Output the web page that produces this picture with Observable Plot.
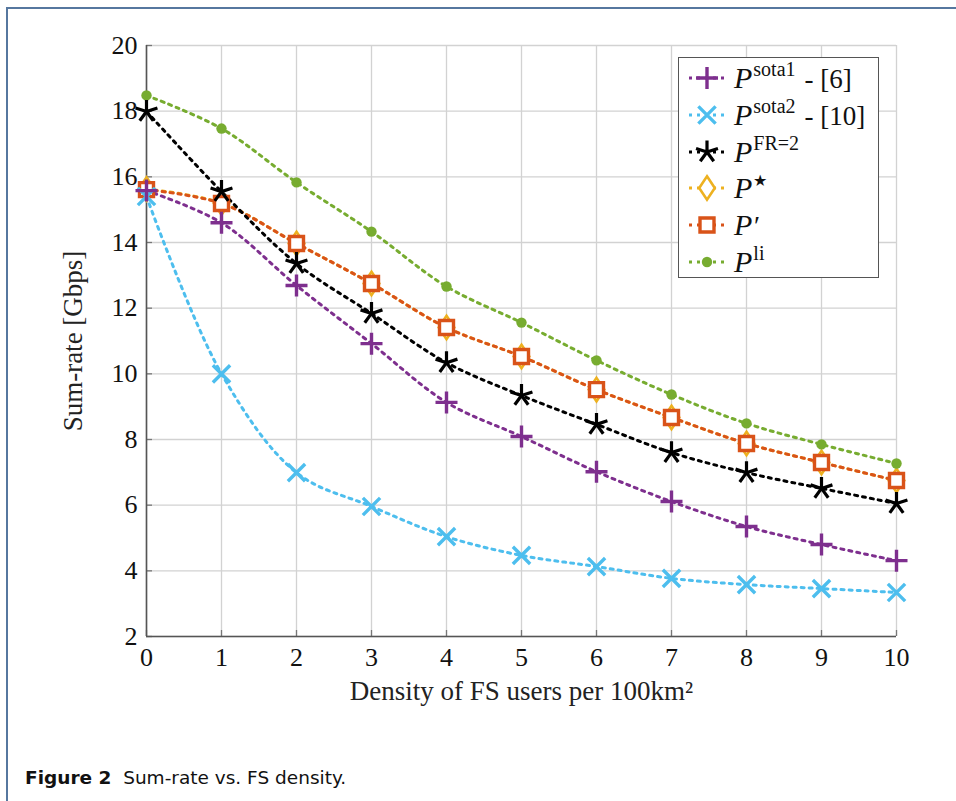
<!DOCTYPE html>
<html>
<head>
<meta charset="utf-8">
<script src="https://cdn.jsdelivr.net/npm/d3@7"></script>
<script src="https://cdn.jsdelivr.net/npm/@observablehq/plot@0.6"></script>
<style>
  html, body { margin: 0; padding: 0; background: #fff; }
  #page { position: relative; width: 956px; height: 801px; overflow: hidden; }
  #frame { position: absolute; left: 6px; top: 7px; right: -10px; bottom: -10px;
           border-top: 2px solid #56779f; border-left: 2px solid #56779f; }
  #chart { position: absolute; left: 0; top: 0; }
  #legend { position: absolute; left: 678px; top: 57px; width: 201px; height: 221px;
            border: 1px solid #555; background: #fff; box-sizing: border-box;
            font-family: "Liberation Serif", serif; color: #111; }
  .row { position: absolute; left: 8px; height: 36px; display: flex; align-items: center; }
  .row svg { margin-right: 7px; }
  .P { font-style: italic; font-size: 30px; }
  .sup { font-size: 20px; position: relative; top: -12px; margin-left: 1px; }
  .ref { font-size: 27px; margin-left: 9px; }
  #caption { position: absolute; left: 25px; top: 767px; font-family: "DejaVu Sans", sans-serif;
             font-size: 18.5px; color: #111; }
</style>
</head>
<body>
<div id="page">
  <div id="frame"></div>
  <div id="chart"></div>
  <div id="legend"></div>
  <div id="caption"><b>Figure 2</b>&nbsp; Sum-rate vs. FS density.</div>
</div>
<script>
// ---- data ----
const density = [0, 1, 2, 3, 4, 5, 6, 7, 8, 9, 10];
const sota1   = [15.58, 14.60, 12.69, 10.92, 9.13, 8.09, 7.02, 6.11, 5.35, 4.80, 4.31];
const sota2   = [15.40, 10.00, 6.99, 5.96, 5.04, 4.47, 4.13, 3.77, 3.58, 3.46, 3.34];
const fr2     = [17.99, 15.55, 13.36, 11.84, 10.34, 9.34, 8.46, 7.60, 6.99, 6.51, 6.05];
const pStar   = [15.63, 15.20, 13.97, 12.75, 11.41, 10.53, 9.52, 8.67, 7.88, 7.30, 6.75];
const pPrime  = [15.61, 15.19, 13.97, 12.75, 11.41, 10.53, 9.52, 8.67, 7.88, 7.30, 6.75];
const pLi     = [18.48, 17.47, 15.83, 14.33, 12.66, 11.56, 10.41, 9.37, 8.49, 7.85, 7.27];
const xTicks = [0, 1, 2, 3, 4, 5, 6, 7, 8, 9, 10];
const yTicks = [2, 4, 6, 8, 10, 12, 14, 16, 18, 20];

// ---- symbols ----
const rad = s => Math.sqrt(s / Math.PI);
const symPlus = {draw(c, s) { const r = rad(s); c.moveTo(-r, 0); c.lineTo(r, 0); c.moveTo(0, -r); c.lineTo(0, r); }};
const symX = {draw(c, s) { const r = rad(s) * 0.75; c.moveTo(-r, -r); c.lineTo(r, r); c.moveTo(-r, r); c.lineTo(r, -r); }};
const symAst = {draw(c, s) { const r = rad(s);
  for (let k = 0; k < 5; k++) { const a = (-90 + 72 * k) * Math.PI / 180; c.moveTo(0, 0); c.lineTo(r * Math.cos(a), r * Math.sin(a)); } }};
const symDiamond = {draw(c, s) { const r = rad(s); c.moveTo(0, -r * 1.5); c.lineTo(r, 0); c.lineTo(0, r * 1.5); c.lineTo(-r, 0); c.closePath(); }};
const symSquare = {draw(c, s) { const r = rad(s); c.rect(-r, -r, 2 * r, 2 * r); }};
const symCircle = {draw(c, s) { const r = rad(s); c.moveTo(r, 0); c.arc(0, 0, r, 0, 2 * Math.PI); }};

const series = [
  {key: "pStar",  vals: pStar,  color: "#EDB120", sym: symDiamond, r: 7.8, fill: "white", sw: 2.6},
  {key: "pPrime", vals: pPrime, color: "#D95319", sym: symSquare,  r: 7,   fill: "white", sw: 3.4},
  {key: "pLi",    vals: pLi,    color: "#77AC30", sym: symCircle,  r: 5.2, fill: "#77AC30", sw: 0},
  {key: "fr2",    vals: fr2,    color: "#000000", sym: symAst,     r: 11.5,fill: "none", sw: 3.2},
  {key: "sota2",  vals: sota2,  color: "#4DBEEE", sym: symX,       r: 11.5,fill: "none", sw: 3.4},
  {key: "sota1",  vals: sota1,  color: "#7E2F8E", sym: symPlus,    r: 11,  fill: "none", sw: 3.4},
];

const lineMarks = series.map(s => {
  const rows = density.map((d, i) => ({x: d, y: s.vals[i]}));
  return Plot.line(rows, {x: "x", y: "y", stroke: s.color, strokeWidth: 3,
    strokeDasharray: "3,5", curve: "catmull-rom"});
});
const dotMarks = series.map(s => {
  const rows = density.map((d, i) => ({x: d, y: s.vals[i]}));
  return Plot.dot(rows, {x: "x", y: "y", symbol: s.sym, r: s.r, stroke: s.sw ? s.color : "none",
    strokeWidth: s.sw, fill: s.fill});
});

const serif = "Liberation Serif, Times New Roman, serif";
const chart = Plot.plot({
  width: 956, height: 720,
  marginLeft: 146, marginRight: 60, marginTop: 45, marginBottom: 84,
  style: {fontFamily: serif, background: "transparent", color: "#111"},
  x: {domain: [0, 10]},
  y: {domain: [2, 20]},
  marks: [
    Plot.gridX(xTicks, {stroke: "#d2d2d2", strokeOpacity: 1, strokeWidth: 1.3}),
    Plot.gridY(yTicks, {stroke: "#d2d2d2", strokeOpacity: 1, strokeWidth: 1.3}),
    Plot.axisX(xTicks, {tickSize: 0, tickPadding: 11, fontSize: 26, label: null, tickFormat: d => String(d)}),
    Plot.axisY(yTicks, {tickSize: 0, tickPadding: 9, fontSize: 26, label: null, tickFormat: d => String(d)}),
    Plot.tickX(xTicks, {x: d => d, stroke: "#777", strokeWidth: 1.3, insetTop: 585}),
    Plot.tickY(yTicks, {y: d => d, stroke: "#777", strokeWidth: 1.3, insetRight: 744}),
    Plot.ruleX([0], {stroke: "#555", strokeWidth: 1.6}),
    Plot.ruleY([2], {stroke: "#555", strokeWidth: 1.6}),
    ...lineMarks,
    ...dotMarks,
    Plot.text(["Sum-rate [Gbps]"], {frameAnchor: "left", textAnchor: "middle", rotate: -90, dx: -73, fontSize: 27, fill: "#222"}),
    Plot.text(["Density of FS users per 100km²"], {frameAnchor: "bottom", textAnchor: "middle", dy: 63, fontSize: 27, fill: "#222"}),
  ]
});
document.getElementById("chart").appendChild(chart);

// ---- legend (HTML) ----
const legendItems = [
  {s: series[5], base: "P", sup: "sota1", ref: "- [6]"},
  {s: series[4], base: "P", sup: "sota2", ref: "- [10]"},
  {s: series[3], base: "P", sup: "FR=2", ref: ""},
  {s: series[0], base: "P", sup: "\u22C6", ref: ""},
  {s: series[1], base: "P", sup: "\u2032", ref: ""},
  {s: series[2], base: "P", sup: "li", ref: ""},
];
const legend = document.getElementById("legend");
legendItems.forEach((it, i) => {
  const row = document.createElement("div");
  row.className = "row";
  row.style.top = (2 + i * 36.8) + "px";
  const svg = d3.create("svg").attr("width", 40).attr("height", 30);
  svg.append("line").attr("x1", 2).attr("x2", 38).attr("y1", 15).attr("y2", 15)
    .attr("stroke", it.s.color).attr("stroke-width", 3).attr("stroke-dasharray", "3,5");
  const size = it.s.r * it.s.r * Math.PI;
  svg.append("path").attr("transform", "translate(20,15)")
    .attr("d", d3.symbol(it.s.sym, size)())
    .attr("fill", it.s.fill).attr("stroke", it.s.sw ? it.s.color : "none").attr("stroke-width", it.s.sw);
  row.appendChild(svg.node());
  const txt = document.createElement("span");
  let supHtml;
  if (it.sup === "\u2032") supHtml = `<span style="font-size:28px;font-style:italic">\u2032</span>`;
  else if (it.sup === "\u22C6") supHtml = `<span class="sup" style="font-size:16px">\u2605</span>`;
  else supHtml = `<span class="sup">${it.sup}</span>`;
  txt.innerHTML = `<span class="P">${it.base}</span>${supHtml}` + (it.ref ? `<span class="ref">${it.ref}</span>` : "");
  row.appendChild(txt);
  legend.appendChild(row);
});
</script>
</body>
</html>
